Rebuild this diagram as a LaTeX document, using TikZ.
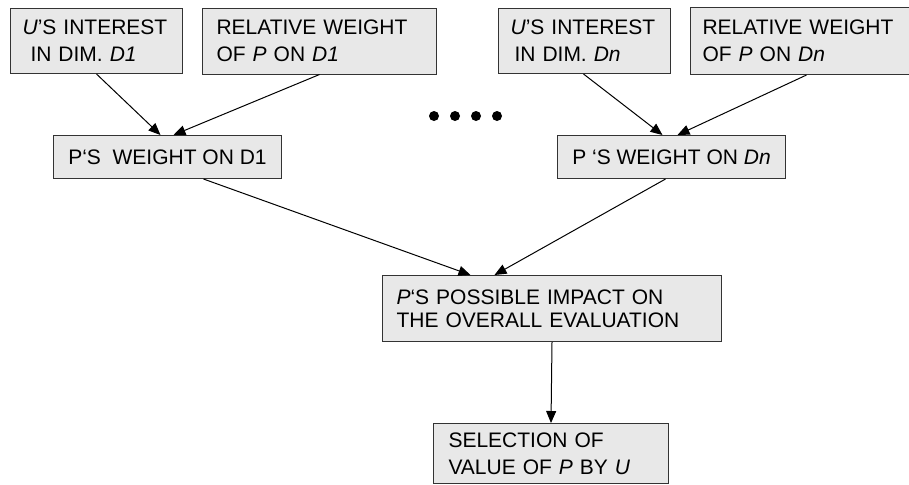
\documentclass[tikz,border=0pt]{standalone}
\usepackage{fontspec}
\setmainfont{Liberation Sans}
\usepackage{tikz}
\usetikzlibrary{arrows.meta,positioning}
\definecolor{BoxGray}{RGB}{232,232,232}

\begin{document}
\begin{tikzpicture}[
    x=0.5pt, y=-0.5pt,
    font=\fontsize{10.5}{13.5}\selectfont,
    box/.style={draw=black!80, line width=0.5pt, fill=BoxGray, align=left,
                anchor=north west, inner xsep=7pt, inner ysep=0pt, minimum height=33pt},
    arr/.style={-{Triangle[length=6pt,width=5pt]}, line width=0.5pt, black}
  ]
    \useasboundingbox (0,0) rectangle (909,484);

    \node[box, text width=74pt, inner xsep=6pt, minimum height=32.5pt] (int1) at (10,8)
         {\textit{U}’S INTEREST\\\hspace*{4pt}IN DIM. \textit{D1}};
    \node[box, text width=103pt, right=9.5pt of int1] (rel1)
         {RELATIVE WEIGHT\\OF \textit{P} ON \textit{D1}};
    \node[box, text width=74pt, inner xsep=6pt, minimum height=32.5pt] (intn) at (498,8)
         {\textit{U}’S INTEREST\\\hspace*{2pt}IN DIM. \textit{Dn}};
    \node[box, text width=97.5pt, inner xsep=6pt, minimum height=33.5pt, right=9.5pt of intn] (reln)
         {RELATIVE WEIGHT\\OF \textit{P} ON \textit{Dn}};

    \foreach \i in {0,...,3}
      \fill (434+21*\i,116) circle (2.5pt);

    \node[box, minimum width=114pt, minimum height=21.5pt] (w1) at (53,135)
         {P‘S\ \ WEIGHT ON D1};
    \node[box, minimum width=114pt, minimum height=21.5pt] (wn) at (557,135)
         {P ‘S WEIGHT ON \textit{Dn}};

    \node[box, text width=155.5pt, font=\fontsize{10.5}{11.5}\selectfont] (imp) at (382,275)
         {\textit{P}‘S POSSIBLE IMPACT ON\\THE OVERALL EVALUATION};
    \node[box, text width=102.5pt, inner xsep=7.5pt, minimum height=30pt] (sel) at (433,423)
         {SELECTION OF\\VALUE OF \textit{P} BY \textit{U}};

    \draw[arr] (int1.south) -- ([xshift=-3.5pt]w1.north);
    \draw[arr] (rel1.south) -- ([xshift=3pt]w1.north);
    \draw[arr] ([xshift=-0.5pt]intn.south) -- ([xshift=-4.5pt]wn.north);
    \draw[arr] ([xshift=3.25pt]reln.south) -- ([xshift=3pt]wn.north);
    \draw[arr] ([xshift=18pt]w1.south) -- ([xshift=-40.75pt]imp.north);
    \draw[arr] ([xshift=-3pt]wn.south) -- ([xshift=-28.75pt]imp.north);
    \draw[arr] (imp.south) -- (sel.north);
  \end{tikzpicture}
\end{document}
